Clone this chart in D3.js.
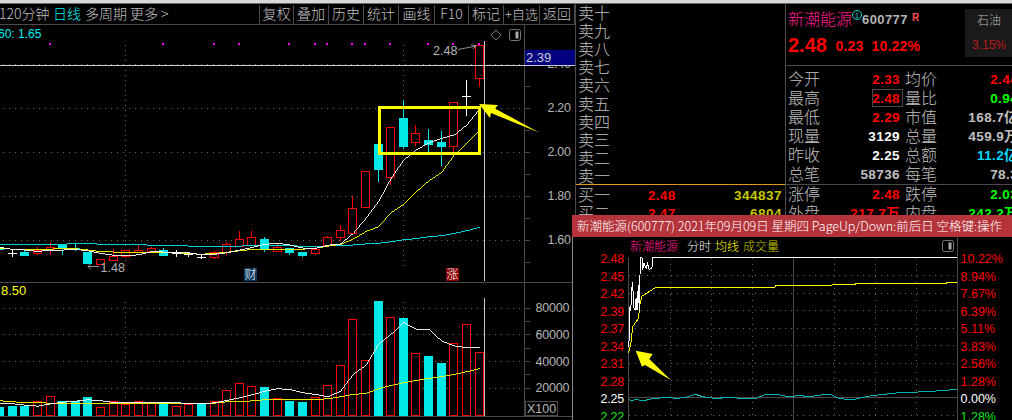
<!DOCTYPE html>
<html>
<head>
    <meta charset="utf-8">
    <title>新潮能源 600777</title>
    <style>
        html, body { margin: 0; padding: 0; background: #000; overflow: hidden; }
        svg { display: block; }
        text { font-family: "Liberation Sans", "Noto Sans CJK SC", sans-serif; }
        .cn { font-family: "Noto Sans CJK SC", sans-serif; font-weight: 300; }
        .crisp, .crisp * { shape-rendering: crispEdges; }
        .domain { display: none; }
    </style>
</head>
<body>
<div id="chart"></div>
<script src="https://d3js.org/d3.v7.min.js"></script>
<script>
    // K线数据 (39 根)
    var open_ = [1.564,1.540,1.543,1.540,1.555,1.575,1.563,1.543,1.490,1.508,1.527,1.542,1.546,1.551,1.540,1.534,1.520,1.519,1.542,1.570,1.577,1.601,1.549,1.560,1.543,1.540,1.575,1.610,1.628,1.749,2.034,1.883,2.152,2.042,2.052,2.042,2.023,2.251,2.332];
    var high_ = [1.570,1.552,1.552,1.564,1.590,1.575,1.583,1.543,1.510,1.555,1.551,1.575,1.564,1.560,1.552,1.545,1.533,1.546,1.587,1.637,1.637,1.611,1.580,1.560,1.543,1.564,1.616,1.664,1.798,1.910,2.034,2.110,2.234,2.120,2.102,2.093,2.223,2.325,2.482];
    var low_ = [1.550,1.522,1.530,1.530,1.530,1.530,1.548,1.495,1.490,1.504,1.517,1.537,1.546,1.531,1.522,1.522,1.511,1.511,1.531,1.570,1.577,1.545,1.549,1.530,1.522,1.531,1.570,1.595,1.625,1.745,1.863,1.848,2.011,2.026,1.996,1.936,1.996,2.163,2.292];
    var close_ = [1.555,1.540,1.530,1.552,1.564,1.560,1.555,1.495,1.510,1.527,1.551,1.551,1.560,1.531,1.540,1.534,1.520,1.542,1.578,1.601,1.610,1.555,1.564,1.545,1.530,1.555,1.610,1.642,1.742,1.910,1.920,2.110,2.026,2.083,2.036,2.026,2.223,2.251,2.482];
    var ma5 = [1.564,1.555,1.552,1.546,1.552,1.552,1.555,1.548,1.537,1.528,1.528,1.530,1.545,1.543,1.543,1.539,1.530,1.533,1.540,1.552,1.564,1.578,1.583,1.575,1.561,1.560,1.574,1.580,1.628,1.696,1.772,1.878,1.961,2.007,2.040,2.060,2.075,2.120,2.192];
    var ma10 = [1.560,1.556,1.555,1.555,1.556,1.560,1.558,1.552,1.545,1.543,1.543,1.543,1.542,1.542,1.540,1.536,1.533,1.537,1.542,1.549,1.555,1.555,1.555,1.555,1.556,1.560,1.570,1.578,1.602,1.636,1.658,1.722,1.760,1.817,1.867,1.905,1.984,2.037,2.095];
    var ma60 = [1.578,1.578,1.578,1.578,1.578,1.578,1.583,1.583,1.578,1.578,1.578,1.578,1.573,1.573,1.573,1.570,1.570,1.570,1.570,1.570,1.573,1.573,1.573,1.573,1.568,1.570,1.570,1.574,1.575,1.580,1.583,1.590,1.599,1.604,1.613,1.617,1.628,1.640,1.655];
    var volumes = [5250,6000,6000,10250,14000,9750,9750,12750,5750,10250,8000,10250,9500,9500,6500,8000,8000,10250,18500,23750,21500,20250,12500,9750,9000,13250,22250,37250,71750,41000,84750,73250,72000,46250,43500,38250,53750,68000,47000];
    var volMa5 = [8250,8000,7000,6250,8000,9250,10000,11000,10250,9000,8750,9000,9250,9250,8750,8250,8000,8750,10500,12500,14750,17500,19250,18750,16250,15000,13250,17500,30000,36750,52500,60000,68750,63750,63750,55000,51250,50000,50000];
    var volMa10 = [10250,9500,8750,8750,8500,8500,8500,8500,8500,8500,8500,8500,8500,8500,8500,8500,8500,8500,9500,9500,10250,11000,11000,11000,11000,11250,11750,13250,15000,15750,19250,21750,23750,25500,27000,28250,30000,32000,34250];
    var volFalling = [0,1,2,5,6,7,13,16,21,23,24,30,32,34,35];
    var markDays = [4,13,17,19,23,25,26,28,29,31,34,36,38];

    var priceTicks = [1.6,1.8,2.0,2.2,2.4];
    var priceMinor = [1.5,1.6,1.7,1.8,1.9,2.0,2.1,2.2,2.3,2.4];
    var volTicks = [20000,40000,60000,80000];
    var volMinor = [10000,20000,30000,40000,50000,60000,70000,80000];

    // 分时数据 (分钟, 价格)
    var tickMinutes = [0,0.5,0.7,1.5,2.2,2.9,3.6,4.6,5.4,6.1,7,7.8,8.5,9.7,10.2,11.2,12.7,13.9,15,17,17.5,18.7,240];
    var tickPrices = [2.333,2.355,2.396,2.393,2.426,2.440,2.399,2.393,2.413,2.393,2.434,2.391,2.480,2.480,2.460,2.470,2.462,2.470,2.460,2.462,2.480,2.480,2.480];
    var avgMinutes = [0,1.7,2.9,5.4,7.3,7.8,9.7,13.9,18.7,21.2,49.1,107,107.5,148.4,148.9,165.5,165.9,232,232.5,240];
    var avgPrices = [2.323,2.341,2.366,2.374,2.380,2.399,2.416,2.422,2.429,2.431,2.431,2.431,2.433,2.433,2.435,2.435,2.437,2.437,2.439,2.439];
    var bandMinutes = [0,1.7,5.4,10.2,17.5,29.7,34.5,41.8,48.7,54,63.7,73.5,83.2,92.9,100.2,110,117.3,124.6,131.9,141.6,147.7,153.8,163.5,175.7,195.1,214.6,229.2,240];
    var bandPrices = [2.248,2.244,2.247,2.244,2.248,2.250,2.248,2.250,2.255,2.251,2.248,2.250,2.248,2.248,2.255,2.254,2.251,2.253,2.251,2.254,2.255,2.248,2.246,2.252,2.257,2.259,2.261,2.263];
    var introTicks = ["2.48","2.45","2.42","2.39","2.37","2.34","2.31","2.28","2.25","2.22"];
    var introPct = ["10.22%","8.94%","7.67%","6.39%","5.11%","3.83%","2.56%","1.28%","0.00%","1.28%"];

    // 工具栏
    var toolLeft = [["120分钟",-1,"#c0c0c0"],["日线",53,"#00f0f0"],["多周期",85,"#c0c0c0"],["更多 >",130,"#c0c0c0"]];
    var toolRight = ["复权","叠加","历史","统计","画线","F10","标记","+自选","返回"];
    var toolSeps = [259,293,328,363,398,434,468,503,539,574];

    // 盘口
    var sellLabels = ["卖十","卖九","卖八","卖七","卖六","卖五","卖四","卖三","卖二","卖一"];
    var buyRows = [["买一","2.48","344837"],["买二","2.47","6804"]];
    var quoteRows = [
        ["今开","2.33","#ff0000","均价","2.44","#ff0000"],
        ["最高","2.48","#ff0000","量比","0.94","#00ff00"],
        ["最低","2.29","#ff0000","市值","168.7亿","#c0c0c0"],
        ["现量","3129","#ffffff","总量","459.9万","#c0c0c0"],
        ["昨收","2.25","#ffffff","总额","11.2亿","#00d8ff"],
        ["总笔","58736","#c0c0c0","每笔","78.3","#c0c0c0"],
        ["涨停","2.48","#ff0000","跌停","2.03","#00ff00"],
        ["外盘","217.7万","#ff0000","内盘","242.2万","#00ff00"]
    ];

    var width = 1012, height = 420;
    var gray = "#4a4a4a", red = "#ff0000", cyan = "#00e8e8", label = "#b4b4b4";

    var svg = d3.select("#chart").append("svg")
        .attr("width", width)
        .attr("height", height)
        .style("background", "#000");

    function txt(parent, x, y, s, color, size, anchor, weight, cn) {
        return parent.append("text")
            .attr("x", x).attr("y", y).attr("dy", "0.36em")
            .attr("class", cn ? "cn" : null)
            .attr("fill", color)
            .attr("font-size", size)
            .attr("font-weight", weight || null)
            .attr("text-anchor", anchor || "start")
            .text(s);
    }
    function hline(parent, x1, x2, y, color, dash) {
        parent.append("line").attr("class", "crisp")
            .attr("x1", x1).attr("x2", x2).attr("y1", y).attr("y2", y)
            .attr("stroke", color).attr("stroke-dasharray", dash || null);
    }
    function vline(parent, x, y1, y2, color, dash) {
        parent.append("line").attr("class", "crisp")
            .attr("x1", x).attr("x2", x).attr("y1", y1).attr("y2", y2)
            .attr("stroke", color).attr("stroke-dasharray", dash || null);
    }
    // 柱的中心列
    function col(d) { return Math.floor(x(d) + 1e-6); }
    // 空心/实心柱: 外层实色 + 内层黑色, 全部取整到像素
    function bars(parent, list, topOf, bottomOf, colorOf, hollow) {
        parent.selectAll(null).data(list).enter().append("rect")
            .attr("class", "crisp")
            .attr("x", function(d) { return col(d) - 4; })
            .attr("width", 9)
            .attr("y", function(d) { return Math.round(topOf(d)); })
            .attr("height", function(d) { return Math.round(bottomOf(d)) - Math.round(topOf(d)) + 1; })
            .attr("fill", colorOf);
        parent.selectAll(null).data(list.filter(hollow)).enter().append("rect")
            .attr("class", "crisp")
            .attr("x", function(d) { return col(d) - 3; })
            .attr("width", 7)
            .attr("y", function(d) { return Math.round(topOf(d)) + 1; })
            .attr("height", function(d) { return Math.max(0, Math.round(bottomOf(d)) - Math.round(topOf(d)) - 1); })
            .attr("fill", "#000");
    }

    // 比例尺
    var days = d3.range(open_.length);
    var x = d3.scalePoint().domain(days).range([-0.3, 479]);
    var y = d3.scaleLinear().domain([2.2, 1.6]).range([107.5, 239.5]);
    var yVol = d3.scaleLinear().domain([0, 80000]).range([414.5, 307.5]);

    // 顶部工具栏
    svg.append("rect").attr("width", width).attr("height", 3.5).attr("fill", "#d8d8d8");
    var tool = svg.append("g");
    toolLeft.forEach(function(d) { txt(tool, d[1], 14, d[0], d[2], 14, "start", null, true); });
    toolRight.forEach(function(d, i) {
        txt(tool, (toolSeps[i] + toolSeps[i + 1]) / 2 + 0.5, 14, d, "#c0c0c0", d === "+自选" ? 13 : 14, "middle", null, true);
    });
    toolSeps.forEach(function(d) { vline(tool, d + 0.5, 5, 24, gray); });
    hline(tool, 0, 576, 24.5, gray);

    // 主图网格
    var main = svg.append("g");
    main.selectAll(".g1").data(priceTicks).enter().append("line")
        .attr("class", "crisp")
        .attr("x1", 3).attr("x2", 524)
        .attr("y1", function(d) { return Math.round(y(d)) + 0.5; })
        .attr("y2", function(d) { return Math.round(y(d)) + 0.5; })
        .attr("stroke", "#666").attr("stroke-dasharray", "1 5");
    [125.5, 403.5].forEach(function(d) { vline(main, d, 45, 270, "#666", "1 4"); });

    // 标记点
    main.selectAll(".mark").data(markDays).enter().append("rect")
        .attr("class", "crisp")
        .attr("x", function(d) { return col(d) - 1; }).attr("y", 43)
        .attr("width", 2).attr("height", 2)
        .attr("fill", "#ff00ff");

    // 蜡烛
    function dir(i) { return close_[i] > open_[i] ? 1 : close_[i] < open_[i] ? -1 : 0; }
    function candleColor(i) { var t = dir(i); return t > 0 ? red : t < 0 ? cyan : "#fff"; }
    var candle = main.append("g").attr("class", "crisp");
    candle.selectAll(".wick").data(days).enter().append("line")
        .attr("x1", function(d) { return col(d) + 0.5; })
        .attr("x2", function(d) { return col(d) + 0.5; })
        .attr("y1", function(d) { return y(high_[d]); })
        .attr("y2", function(d) { return y(low_[d]); })
        .attr("stroke", candleColor);
    bars(candle, days,
        function(d) { return y(Math.max(open_[d], close_[d])); },
        function(d) { return y(Math.min(open_[d], close_[d])); },
        candleColor,
        function(d) { return dir(d) > 0; });

    // 均线
    function maLine(values, scale, color, parent) {
        parent.append("path")
            .datum(values)
            .attr("class", "crisp")
            .attr("fill", "none")
            .attr("stroke", color)
            .attr("stroke-width", 0.9)
            .attr("d", d3.line()
                .x(function(d, i) { return x(i) + 0.5; })
                .y(function(d) { return scale(d); }));
    }
    maLine(ma60, y, "#00e8f0", main);
    maLine(ma10, y, "#ffff00", main);
    maLine(ma5, y, "#ffffff", main);

    // 成交量
    var volG = svg.append("g");
    volG.selectAll(".g2").data(volTicks).enter().append("line")
        .attr("class", "crisp")
        .attr("x1", 3).attr("x2", 524)
        .attr("y1", function(d) { return Math.round(yVol(d)) + 0.5; })
        .attr("y2", function(d) { return Math.round(yVol(d)) + 0.5; })
        .attr("stroke", "#666").attr("stroke-dasharray", "1 5");
    [125.5, 403.5].forEach(function(d) { vline(volG, d, 302, 414, "#666", "1 4"); });
    function volColor(i) { return volFalling.indexOf(i) >= 0 ? cyan : red; }
    bars(volG, days,
        function(d) { return yVol(volumes[d]); },
        function(d) { return yVol(0); },
        volColor,
        function(d) { return volFalling.indexOf(d) < 0; });
    maLine(volMa10, yVol, "#ffff00", volG);
    maLine(volMa5, yVol, "#ffffff", volG);

    // 面板分隔线
    hline(svg, 0, 576, 282.5, gray);
    hline(svg, 0, 576, 416.5, gray);
    vline(svg, 524.5, 24, 416, gray);
    vline(svg, 484.5, 41, 281, "#c8c8c8");
    vline(svg, 484.5, 298, 416, "#c8c8c8");

    // 右侧坐标轴
    var axisMain = svg.append("g").attr("class", "crisp")
        .attr("transform", "translate(524.5,0)")
        .call(d3.axisRight(y).tickValues(priceMinor).tickSize(5).tickPadding(18).tickFormat(function(d) {
            return priceTicks.indexOf(d) >= 0 ? d.toFixed(2) : "";
        }));
    axisMain.selectAll("line").attr("stroke", gray);
    axisMain.selectAll("text").attr("fill", label).attr("font-size", 12.5).attr("letter-spacing", -0.3)
        .style("font-family", "Liberation Sans");

    var axisVol = svg.append("g").attr("class", "crisp")
        .attr("transform", "translate(524.5,0)")
        .call(d3.axisRight(yVol).tickValues(volMinor).tickSize(5).tickPadding(6).tickFormat(function(d) {
            return volTicks.indexOf(d) >= 0 ? d : "";
        }));
    axisVol.selectAll("line").attr("stroke", gray);
    axisVol.selectAll("text").attr("fill", label).attr("font-size", 12.5).attr("letter-spacing", -0.2)
        .style("font-family", "Liberation Sans");

    svg.append("rect").attr("class", "crisp")
        .attr("x", 525.5).attr("y", 401.5).attr("width", 32).attr("height", 14)
        .attr("fill", "#000").attr("stroke", gray);
    txt(svg, 527, 408.5, "X100", label, 12.5);

    // 十字线价格
    hline(svg, 0, 576, 65.5, "#c8c8c8");
    svg.append("rect").attr("class", "crisp").attr("x", 525).attr("y", 50).attr("width", 50).attr("height", 15).attr("fill", "#000080");
    txt(svg, 526, 57, "2.39", "#d0d0d0", 13);

    // 文字标注
    txt(svg, -2, 33.5, "60: 1.65", "#00f0f0", 12);
    txt(svg, 1, 290.5, "8.50", "#ffff00", 13);
    txt(svg, 433, 50.5, "2.48", label, 12.5);
    svg.append("path").attr("d", "M458,49.5L476,46M471,44.5L476,46L473,49").attr("fill", "none").attr("stroke", label).attr("stroke-width", 0.8);
    txt(svg, 100.5, 267.5, "1.48", label, 12.5);
    svg.append("path").attr("d", "M99,266.5H88M88,266.5L91,263.5M88,266.5L91,269.5").attr("fill", "none").attr("stroke", label).attr("stroke-width", 0.8);

    svg.append("rect").attr("class", "crisp").attr("x", 244).attr("y", 268).attr("width", 13).attr("height", 13).attr("fill", "#0b3a60");
    txt(svg, 250.5, 274.5, "财", "#fff", 12, "middle", null, true);
    svg.append("rect").attr("class", "crisp").attr("x", 446).attr("y", 268).attr("width", 13).attr("height", 13).attr("fill", "#8b0000");
    txt(svg, 452.5, 274.5, "涨", "#fff", 12, "middle", null, true);

    // 小图标
    svg.append("path").attr("d", "M496,30L501,35L496,40L491,35Z").attr("fill", "none").attr("stroke", "#777");
    function toggleIcon(cx, cy) {
        svg.append("rect").attr("x", cx - 5.5).attr("y", cy - 5.5).attr("width", 11).attr("height", 11).attr("rx", 2).attr("fill", "none").attr("stroke", "#777");
        svg.append("rect").attr("x", cx + 0.5).attr("y", cy - 3.5).attr("width", 3).attr("height", 7).attr("fill", "#aaa");
    }
    toggleIcon(515, 35);

    // 黄框和箭头
    svg.append("rect").attr("class", "crisp")
        .attr("x", 379.5).attr("y", 107.5).attr("width", 100).attr("height", 46)
        .attr("fill", "none").attr("stroke", "#ffff00").attr("stroke-width", 3);
    svg.append("polygon").attr("points", "479,104 498,105 495,108.5 539,132.5 491,113 490,118").attr("fill", "#ffff00");

    // 盘口面板
    vline(svg, 575.5, 4, 215, gray);
    vline(svg, 785.5, 4, 215, gray);
    sellLabels.forEach(function(d, i) {
        txt(svg, 578, 13.5 + i * 18.05, d, "#c0c0c0", 16, "start", null, true);
    });
    hline(svg, 576, 785, 184.5, "#e09a20");
    buyRows.forEach(function(d, i) {
        var yy = 195 + i * 18;
        txt(svg, 578, yy, d[0], "#c0c0c0", 16, "start", null, true);
        txt(svg, 648, yy, d[1], red, 13.5, "start", "bold").attr("letter-spacing", 0.3);
        txt(svg, 782, yy, d[2], "#c8c800", 13.5, "end", "bold").attr("letter-spacing", 0.5);
    });

    // 行情面板
    txt(svg, 788, 19, "新潮能源", "#ff1a90", 16, "start", null, true);
    svg.append("circle").attr("cx", 857).attr("cy", 15).attr("r", 4.5).attr("fill", "none").attr("stroke", "#00d8d8");
    txt(svg, 857, 15, "1", "#00d8d8", 7, "middle");
    txt(svg, 862, 19, "600777", "#b4b4b4", 13, "start", "bold").attr("letter-spacing", 0.4);
    txt(svg, 912, 17, "R", "#ff5050", 10, "start", "bold");
    txt(svg, 788, 45, "2.48", red, 20, "start", "bold");
    txt(svg, 835.5, 46, "0.23", red, 14, "start", "bold").attr("letter-spacing", 0.2);
    txt(svg, 871.5, 46, "10.22%", red, 14, "start", "bold").attr("letter-spacing", 0.2);
    svg.append("rect").attr("class", "crisp").attr("x", 965).attr("y", 9).attr("width", 47).attr("height", 48).attr("fill", "#1a1a1a");
    txt(svg, 989, 21, "石油", "#b4b4b4", 12, "middle", null, true);
    txt(svg, 989, 45, "3.15%", "#c01818", 12, "middle");

    hline(svg, 786, 1012, 65.5, gray);
    quoteRows.forEach(function(d, i) {
        var yy = 79 + i * 19 + (i >= 6 ? 1 : 0);
        txt(svg, 788, yy, d[0], "#c0c0c0", 16, "start", null, true);
        txt(svg, 900, yy, d[1], d[2], 13.5, "end", "bold").attr("letter-spacing", 0.4);
        txt(svg, 905, yy, d[3], "#c0c0c0", 16, "start", null, true);
        txt(svg, 1018, yy, d[4], d[5], 13.5, "end", "bold").attr("letter-spacing", 0.4);
    });
    hline(svg, 786, 1012, 184.5, gray);
    svg.append("rect").attr("class", "crisp").attr("x", 872.5).attr("y", 89.5).attr("width", 30).attr("height", 17).attr("fill", "none").attr("stroke", gray);

    // 分时弹窗
    var pop = svg.append("g");
    pop.append("rect").attr("class", "crisp").attr("x", 572).attr("y", 215).attr("width", 440).attr("height", 205).attr("fill", "#000");
    pop.append("rect").attr("class", "crisp").attr("x", 572).attr("y", 215).attr("width", 440).attr("height", 22).attr("fill", "#b5333a");
    vline(pop, 572.5, 237, 420, "#888");
    txt(pop, 577, 226, "新潮能源(600777) 2021年09月09日 星期四 PageUp/Down:前后日 空格键:操作", "#fff", 12.5, "start", null, true);

    txt(pop, 630, 247, "新潮能源", "#ff1a90", 12, "start", null, true);
    txt(pop, 687, 247, "分时", "#fff", 12, "start", null, true);
    txt(pop, 715, 247, "均线", "#ffff00", 12, "start", null, true);
    txt(pop, 743, 247, "成交量", "#c8c800", 12, "start", null, true);

    var xt = d3.scaleLinear().domain([0, 240]).range([628.7, 957]);
    var yt = d3.scaleLinear().domain([2.25, 2.48]).range([397.3, 257.3]);
    var rowY = d3.scaleLinear().domain([0, 8]).range([257.5, 397.5]);

    // 网格
    introTicks.forEach(function(d, i) {
        var yy = Math.round(rowY(i)) + 0.5;
        if (i > 0 && i !== 8) hline(pop, 629, 957, yy, "#666", "1 5");
        var c = i < 8 ? red : i === 8 ? "#fff" : "#19e619";
        txt(pop, 624, rowY(i) + 1, d, c, 12.5, "end").attr("letter-spacing", -0.2);
        txt(pop, 960.5, rowY(i) + 1, introPct[i], c, 12.5);
    });
    hline(pop, 629, 957, 397.5, gray);
    d3.range(1, 8).forEach(function(i) {
        var m = i * 30;
        if (m === 120) vline(pop, Math.round(xt(m)) + 0.5, 258, 420, gray);
        else vline(pop, Math.round(xt(m)) + 0.5, 258, 420, "#666", "1 5");
    });
    vline(pop, 628.5, 257, 420, gray);
    vline(pop, 957.5, 237, 420, gray);

    function tickLine(minutes, prices, color, w) {
        pop.append("path")
            .datum(minutes)
            .attr("class", "crisp")
            .attr("fill", "none")
            .attr("stroke", color)
            .attr("stroke-width", w)
            .attr("d", d3.line()
                .x(function(d) { return xt(d); })
                .y(function(d, i) { return yt(prices[i]); }));
    }
    tickLine(bandMinutes, bandPrices, "#00b4b4", 1);
    tickLine(avgMinutes, avgPrices, "#ffff00", 1);
    tickLine(tickMinutes, tickPrices, "#ffffff", 1);

    toggleIcon(948, 246);
    pop.append("polygon").attr("points", "635.7,350.7 652.7,354 649.3,359 670.7,380 645,365 642,366.7").attr("fill", "#ffff00");
</script>
</body>
</html>
